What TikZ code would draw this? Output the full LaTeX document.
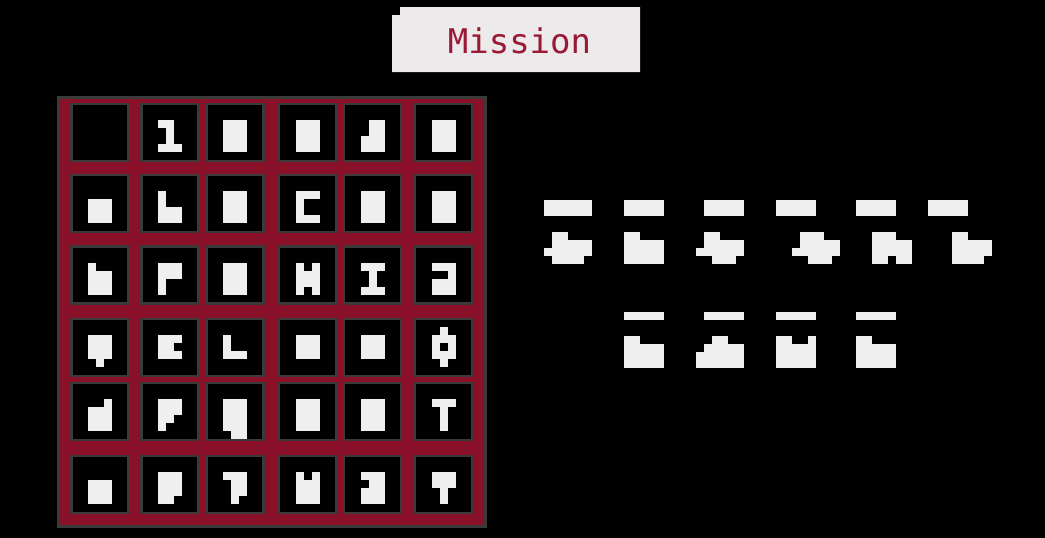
\documentclass[tikz,border=0pt]{standalone}
\usepackage{fontspec}
\newfontfamily\plexmono{DejaVu Sans Mono}
\usepackage{tikz}
\definecolor{Crimson}{HTML}{8A1029}
\definecolor{TitleRed}{HTML}{9A1A36}
\definecolor{PaleGray}{HTML}{ECEAEA}
\definecolor{FrameGray}{HTML}{3A3A3A}
\definecolor{PixWhite}{HTML}{EFEFEF}

\tikzset{
  pixel/.style={fill=PixWhite},
  cellbox/.style={fill=black, draw=FrameGray, line width=2.5pt, minimum size=57pt, inner sep=0pt},
  boardframe/.style={fill=Crimson, draw=FrameGray, line width=3pt, minimum width=427pt, minimum height=428.5pt, inner sep=0pt},
  titletext/.style={text=TitleRed, font=\plexmono\fontsize{34}{40}\selectfont, inner sep=0pt}
}

% one glyph: origin, then x1/y1/x2/y2 blocks in pixel steps
\newcommand{\pix}[2]{%
  \begin{scope}[shift={(#1)}]
    \foreach \a/\b/\c/\d in {#2}
      \fill[pixel] (8*\a,8*\b) rectangle (8*\c,8*\d);
  \end{scope}}

\begin{document}
\begin{tikzpicture}[x=1pt, y=-1pt]
    \fill[black] (0,0) rectangle (1045,538);
    \useasboundingbox (0,0) rectangle (1045,538);

    % title
    \fill[PaleGray] (392,15) -| (400,7) -| (640,72) -| cycle;
    \node[titletext] (mission) at (519.5,40.5) {Mission};

    % board
    \node[boardframe] (board) at (272,311.75) {};
    \foreach \cy [count=\i from 0] in {132.5,203.5,275,347.5,411.5,484.5}
      \foreach \cx [count=\j from 0] in {100,170,235,307.5,372.5,443.5} {
        \node[cellbox] (cell-\i-\j) at (\cx,\cy) {};
        \coordinate (g-\i-\j) at (\cx-12,\cy-12.5);
      }

    \pix{g-0-1}{0/0/2/1, 1/1/2/3, 0/3/3/4}
    \pix{g-0-2}{0/0/3/4}
    \pix{g-0-3}{0/0/3/4}
    \pix{g-0-4}{1/0/3/2, 0/2/3/4}
    \pix{g-0-5}{0/0/3/4}
    \pix{g-1-0}{0/1/3/4}
    \pix{g-1-1}{0/0/1/2, 0/2/3/4}
    \pix{g-1-2}{0/0/3/4}
    \pix{g-1-3}{0/0/3/1, 0/1/1/3, 0/3/3/4}
    \pix{g-1-4}{0/0/3/4}
    \pix{g-1-5}{0/0/3/4}
    \pix{g-2-0}{0/0/1/1, 0/1/3/4}
    \pix{g-2-1}{0/0/3/2, 0/2/1/4}
    \pix{g-2-2}{0/0/3/4}
    \pix{g-2-3}{0/0/1/4, 2/0/3/4, 1/1/2/3}
    \pix{g-2-4}{0/0/3/1, 1/1/2/3, 0/3/3/4}
    \pix{g-2-5}{0/0/3/1, 2/1/3/2, 0/2/3/4}
    \pix{g-3-0}{0/0/3/3, 1/3/2/4}
    \pix{g-3-1}{0/0/3/1, 0/1/2/2, 0/2/3/3}
    \pix{g-3-2}{0/0/1/2, 0/2/3/3}
    \pix{g-3-3}{0/0/3/3}
    \pix{g-3-4}{0/0/3/3}
    \pix{g-3-5}{1/-1/2/0, 0/0/3/1, 0/1/1/2, 2/1/3/2, 0/2/3/3, 1/3/2/4}
    \pix{g-4-0}{2/0/3/1, 0/1/3/4}
    \pix{g-4-1}{0/0/3/2, 0/2/2/3, 0/3/1/4}
    \pix{g-4-2}{0/0/3/4, 1/4/3/5}
    \pix{g-4-3}{0/0/3/4}
    \pix{g-4-4}{0/0/3/4}
    \pix{g-4-5}{0/0/3/1, 1/1/2/4}
    \pix{g-5-0}{0/1/3/4}
    \pix{g-5-1}{0/0/3/3, 0/3/2/4}
    \pix{g-5-2}{0/0/3/1, 1/1/3/3, 1/3/2/4}
    \pix{g-5-3}{0/0/1/1, 2/0/3/1, 0/1/3/4}
    \pix{g-5-4}{0/0/3/1, 1/1/3/2, 0/2/3/4}
    \pix{g-5-5}{0/0/3/2, 1/2/2/4}

    % key, first line
    \foreach \x/\w in {544/48, 624/40, 704/40, 776/40, 856/40, 928/40}
      \fill[pixel] (\x,200) rectangle ++(\w,16);
    \pix{544,232}{1/0/3/1, 1/1/6/2, 0/2/6/3, 1/3/5/4}
    \pix{624,232}{0/0/2/1, 0/1/5/4}
    \pix{696,232}{1/0/3/1, 1/1/6/2, 0/2/6/3, 2/3/5/4}
    \pix{792,232}{1/0/4/1, 1/1/6/2, 0/2/6/3, 2/3/5/4}
    \pix{872,232}{0/0/3/1, 0/1/5/3, 0/3/2/4, 3/3/5/4}
    \pix{952,232}{0/0/2/1, 0/1/5/3, 0/3/4/4}

    % key, second line
    \foreach \x in {624,704,776,856}
      \fill[pixel] (\x,312) rectangle ++(40,8);
    \pix{624,336}{0/0/2/1, 0/1/5/4}
    \pix{696,336}{2/0/4/1, 1/1/6/2, 0/2/6/4}
    \pix{776,336}{0/0/2/1, 4/0/5/1, 0/1/5/4}
    \pix{856,336}{0/0/2/1, 0/1/5/4}
\end{tikzpicture}
\end{document}
